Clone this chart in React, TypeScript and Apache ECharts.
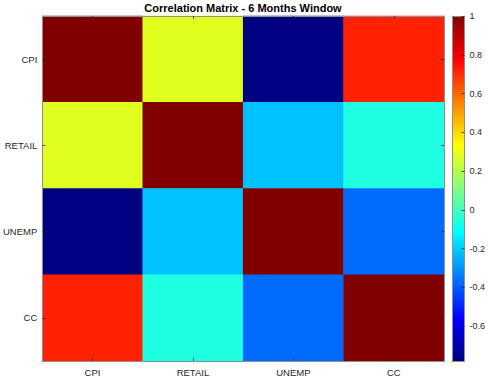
import React, { useEffect, useRef } from "react";
import * as echarts from "echarts";

// Variables in the correlation matrix (rows top to bottom, columns left to right)
const variables = ["CPI", "RETAIL", "UNEMP", "CC"];

// Pairwise correlations over a 6-month window
const rowCPI = [1, 0.28, -0.78, 0.72];
const rowRETAIL = [0.28, 1, -0.22, -0.06];
const rowUNEMP = [-0.78, -0.22, 1, -0.37];
const rowCC = [0.72, -0.06, -0.37, 1];
const matrix = [rowCPI, rowRETAIL, rowUNEMP, rowCC];

// Colour scale limits and colorbar tick labels
const colorMin = -0.78;
const colorMax = 1;
const colorbarTicks = [-0.6, -0.4, -0.2, 0, 0.2, 0.4, 0.6, 0.8, 1];

// Jet colormap, sampled at every 1/8 of the range
const jet = [
  "#000080",
  "#0000ff",
  "#0080ff",
  "#00ffff",
  "#80ff80",
  "#ffff00",
  "#ff8000",
  "#ff0000",
  "#800000",
];

const FONT = "'Liberation Sans', Arial, Helvetica, sans-serif";
const TEXT = "#262626";
const BOX = "#8f8f8f";

export default function App() {
  const ref = useRef<HTMLDivElement>(null);

  useEffect(() => {
    if (!ref.current) return;
    const chart = echarts.init(ref.current, null, { renderer: "svg" });

    const cells: [number, number, number][] = [];
    matrix.forEach((row, r) =>
      row.forEach((v, c) => cells.push([c, r, v]))
    );

    const plot = { left: 42, top: 16, width: 402, height: 345 };
    const bar = { left: 452, top: 16, width: 17, height: 345 };

    const tickStyle = { show: true, inside: true, length: 3, lineStyle: { color: TEXT, width: 0.8 } };
    const lineStyle = { show: true, lineStyle: { color: BOX, width: 1 } };

    // Gradient for the colorbar: jet from the bottom (min) to the top (max)
    const stops = jet.map((color, i) => ({ offset: i / (jet.length - 1), color }));

    chart.setOption({
      animation: false,
      textStyle: { fontFamily: FONT },
      title: {
        text: "Correlation Matrix - 6 Months Window",
        left: plot.left + plot.width / 2,
        textAlign: "center",
        top: 2,
        padding: 0,
        textStyle: { fontSize: 11, fontWeight: "bold", color: "#000", fontFamily: FONT },
      },
      grid: [
        { ...plot, containLabel: false },
        { ...bar, containLabel: false },
      ],
      xAxis: [
        {
          type: "category",
          gridIndex: 0,
          data: variables,
          position: "bottom",
          z: 5,
          axisLine: lineStyle,
          axisTick: { ...tickStyle, alignWithLabel: true },
          axisLabel: { color: TEXT, fontSize: 9.5, margin: 6, fontFamily: FONT },
          splitLine: { show: false },
        },
        {
          type: "category",
          gridIndex: 0,
          data: variables,
          position: "top",
          z: 5,
          axisLine: lineStyle,
          axisTick: { ...tickStyle, alignWithLabel: true },
          axisLabel: { show: false },
          splitLine: { show: false },
        },
        {
          type: "value",
          gridIndex: 1,
          min: 0,
          max: 1,
          position: "bottom",
          z: 5,
          axisLine: { ...lineStyle, onZero: false },
          axisTick: { show: false },
          axisLabel: { show: false },
          splitLine: { show: false },
        },
        {
          type: "value",
          gridIndex: 1,
          min: 0,
          max: 1,
          position: "top",
          z: 5,
          axisLine: { ...lineStyle, onZero: false },
          axisTick: { show: false },
          axisLabel: { show: false },
          splitLine: { show: false },
        },
      ],
      yAxis: [
        {
          type: "category",
          gridIndex: 0,
          data: variables,
          inverse: true,
          position: "left",
          z: 5,
          axisLine: lineStyle,
          axisTick: { ...tickStyle, alignWithLabel: true },
          axisLabel: { color: TEXT, fontSize: 9.5, margin: 5, fontFamily: FONT },
          splitLine: { show: false },
        },
        {
          type: "category",
          gridIndex: 0,
          data: variables,
          inverse: true,
          position: "right",
          z: 5,
          axisLine: lineStyle,
          axisTick: { ...tickStyle, alignWithLabel: true },
          axisLabel: { show: false },
          splitLine: { show: false },
        },
        {
          type: "value",
          gridIndex: 1,
          position: "right",
          min: colorMin,
          max: colorMax,
          z: 5,
          axisLine: { ...lineStyle, onZero: false },
          axisTick: {
            show: true,
            inside: true,
            length: 3,
            customValues: colorbarTicks,
            lineStyle: { color: TEXT, width: 0.8 },
          },
          axisLabel: {
            color: TEXT,
            fontSize: 9,
            margin: 5,
            customValues: colorbarTicks,
            fontFamily: FONT,
            formatter: (v: number) => String(Math.round(v * 10) / 10),
          },
          splitLine: { show: false },
        },
        {
          type: "value",
          gridIndex: 1,
          position: "left",
          min: colorMin,
          max: colorMax,
          z: 5,
          axisLine: { ...lineStyle, onZero: false },
          axisTick: { show: false },
          axisLabel: { show: false },
          splitLine: { show: false },
        },
      ],
      visualMap: {
        type: "continuous",
        show: false,
        min: colorMin,
        max: colorMax,
        seriesIndex: 0,
        inRange: { color: jet },
      },
      series: [
        {
          type: "heatmap",
          xAxisIndex: 0,
          yAxisIndex: 0,
          data: cells,
          itemStyle: { borderWidth: 0 },
          emphasis: { disabled: true },
        },
        {
          // Colorbar: one gradient bar spanning the colour scale on its own axis
          type: "custom",
          xAxisIndex: 2,
          yAxisIndex: 2,
          silent: true,
          data: [[0, colorMin, colorMax]],
          renderItem: (params: any, api: any) => {
            const lo = api.coord([0, api.value(1)]);
            const hi = api.coord([1, api.value(2)]);
            return {
              type: "rect",
              shape: { x: lo[0], y: hi[1], width: hi[0] - lo[0], height: lo[1] - hi[1] },
              style: {
                fill: new echarts.graphic.LinearGradient(0, 1, 0, 0, stops),
              },
            };
          },
        },
      ],
    });

    return () => chart.dispose();
  }, []);

  return (
    <div
      ref={ref}
      style={{ position: "fixed", left: 0, top: 0, width: 488, height: 379, background: "#fff" }}
    />
  );
}
